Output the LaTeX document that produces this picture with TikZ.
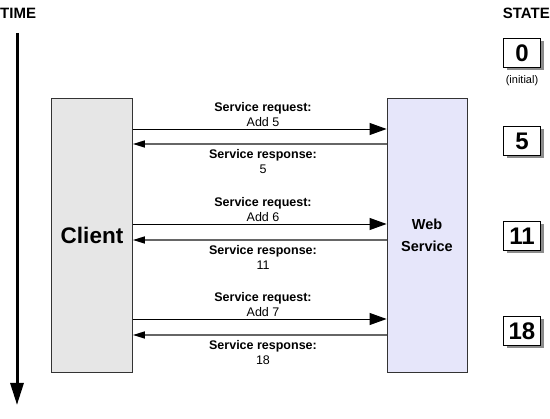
\documentclass[tikz,border=0pt]{standalone}
\usepackage{fontspec}
\setmainfont{Liberation Sans}
\usetikzlibrary{arrows.meta, positioning, shadows}
\definecolor{clientgray}{RGB}{230,230,230}
\definecolor{servicelav}{RGB}{230,230,250}

\begin{document}
\begin{tikzpicture}[
    x=1pt, y=-1pt,
    >=Stealth,
    party/.style={rectangle, draw=black!80, line width=0.8pt, minimum width=81pt, minimum height=274pt, inner sep=0pt, align=center},
    statebox/.style={rectangle, draw, line width=0.8pt, fill=white, minimum width=37pt, minimum height=29pt, inner sep=0pt, font=\fontsize{24}{24}\selectfont\bfseries, drop shadow={shadow xshift=3pt, shadow yshift=-3pt, fill=black!45, opacity=1}},
    request/.style={-{Triangle[length=17pt, width=12pt]}, line width=0.9pt},
    response/.style={-{Triangle[length=12pt, width=7pt, color=black]}, line width=1.6pt, black!60},
    timeline/.style={-{Triangle[length=22pt, width=13pt]}, line width=3pt},
    msgtxt/.style={align=center, inner sep=0pt, font=\fontsize{12.5}{15}\selectfont},
    heading/.style={inner sep=0pt, font=\fontsize{15}{15}\selectfont\bfseries},
]
\useasboundingbox (0,0) rectangle (550,419);

% === Headings ===
\node (time) [heading, anchor=west] at (0,13) {TIME};
\node (state) [heading, anchor=east] at (550,13) {STATE};

% === Time axis ===
\coordinate (tstart) at (17,33);
\coordinate (tend) at (17,405);
\draw[timeline] (tstart) -- (tend);

% === Client and service ===
\node (client) [party, fill=clientgray, font=\fontsize{22.5}{22}\selectfont\bfseries] at (92,235) {Client};
\node (ws) [party, fill=servicelav, minimum width=80pt, font=\fontsize{14.5}{22}\selectfont\bfseries] at (427,235) {Web\\Service};

% === Message levels ===
\coordinate (q1) at (263,129);
\coordinate (p1) at (263,144);
\coordinate (q2) at (263,224);
\coordinate (p2) at (263,240);
\coordinate (q3) at (263,319);
\coordinate (p3) at (263,335);

% Requests
\draw[request] (client.east |- q1) -- (ws.west |- q1);
\draw[request] (client.east |- q2) -- (ws.west |- q2);
\draw[request] (client.east |- q3) -- (ws.west |- q3);

% Responses
\draw[response] (ws.west |- p1) -- (client.east |- p1);
\draw[response] (ws.west |- p2) -- (client.east |- p2);
\draw[response] (ws.west |- p3) -- (client.east |- p3);

% Labels
\node (lq1) [msgtxt, above=2pt of q1] {\textbf{Service request:}\\Add 5};
\node (lp1) [msgtxt, below=5pt of p1] {\textbf{Service response:}\\5};
\node (lq2) [msgtxt, above=2pt of q2] {\textbf{Service request:}\\Add 6};
\node (lp2) [msgtxt, below=5pt of p2] {\textbf{Service response:}\\11};
\node (lq3) [msgtxt, above=2pt of q3] {\textbf{Service request:}\\Add 7};
\node (lp3) [msgtxt, below=5pt of p3] {\textbf{Service response:}\\18};

% === State column ===
\node (s0) [statebox] at (522,53) {0};
\node (init) [below=7pt of s0, inner sep=0pt, font=\fontsize{11}{11}\selectfont] {(initial)};
\node (s5) [statebox] at (522,141) {5};
\node (s11) [statebox] at (522,236) {11};
\node (s18) [statebox] at (522,331) {18};

\end{tikzpicture}
\end{document}
